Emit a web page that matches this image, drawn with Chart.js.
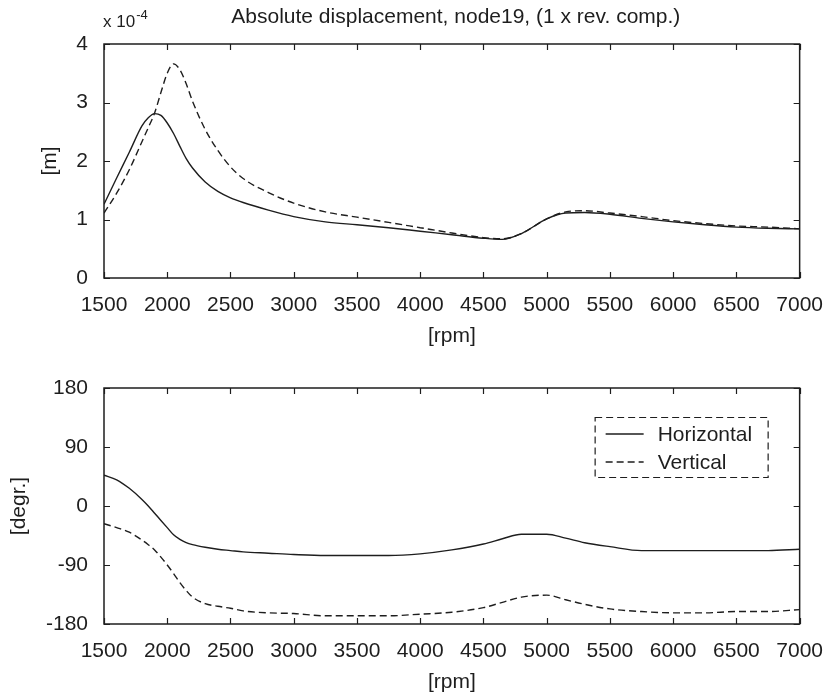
<!DOCTYPE html>
<html>
<head>
<meta charset="utf-8">
<script src="https://cdn.jsdelivr.net/npm/chart.js@4.4.1/dist/chart.umd.min.js"></script>
<style>
    html, body { margin: 0; padding: 0; background: #fff; }
    #wrap { position: relative; width: 838px; height: 698px; }
    #wrap canvas { position: absolute; left: 0; }
</style>
</head>
<body>
<div id="wrap">
    <canvas id="ampChart" width="838" height="350" style="top:0"></canvas>
    <canvas id="phaseChart" width="838" height="348" style="top:350px"></canvas>
</div>
<script>
/* ============================================================================
   Absolute displacement, node19 - amplitude (x 10^-4 m) and phase (degr.)
   over rotor speed. Two stacked charts, gnuplot-ish frame with inward ticks.
   ============================================================================ */

// --- data --------------------------------------------------------------------
const rpm = [1500, 1600, 1700, 1800, 1850, 1900, 1950, 2000, 2050, 2100, 2150, 2200,
             2300, 2400, 2500, 2600, 2800, 3000, 3250, 3500, 3750, 4000, 4250, 4500,
             4650, 4800, 5000, 5150, 5300, 5500, 5750, 6000, 6250, 6500, 6750, 7000];

// amplitude, in units of 1e-4 m
const ampHorizontal = [1.26, 1.71, 2.15, 2.60, 2.74, 2.81, 2.78, 2.65, 2.47, 2.25, 2.04, 1.88,
                       1.64, 1.48, 1.37, 1.29, 1.16, 1.05, 0.96, 0.91, 0.86, 0.80, 0.74, 0.68,
                       0.66, 0.76, 1.01, 1.11, 1.12, 1.09, 1.02, 0.96, 0.91, 0.87, 0.85, 0.84];
const ampVertical   = [1.11, 1.45, 1.85, 2.33, 2.57, 2.82, 3.17, 3.50, 3.66, 3.56, 3.32, 3.02,
                       2.54, 2.18, 1.90, 1.70, 1.46, 1.28, 1.13, 1.04, 0.95, 0.86, 0.77, 0.69,
                       0.67, 0.76, 1.01, 1.13, 1.15, 1.11, 1.05, 0.98, 0.93, 0.89, 0.87, 0.84];

// phase, degrees
const phaseHorizontal = [47, 40, 27, 10, 0, -11, -22, -33, -44, -51, -56, -59,
                         -63, -66, -68, -70, -72, -74, -75.5, -75.5, -75.5, -73, -67, -58,
                         -50, -43, -43, -49, -56, -62, -68, -68, -68, -68, -68, -66];
const phaseVertical   = [-27, -33, -40, -52, -59, -67, -78, -90, -103, -117, -129, -139,
                         -149, -153, -156, -160, -163, -164, -167.5, -167.5, -167.5, -165, -162, -155,
                         -147, -139, -136, -143, -150, -157, -161, -163, -163, -161, -161, -158];

const seriesNames = ['Horizontal', 'Vertical'];
const titleText = 'Absolute displacement, node19, (1 x rev. comp.)';

// --- look ---------------------------------------------------------------------
const FONT = '"Liberation Sans", Arial, Helvetica, sans-serif';
const INK = '#1e1e1e';
const TICK_LEN = 6;

const toPoints = (ys) => rpm.map((r, i) => ({ x: r, y: ys[i] }));

/**
 * Draws the box round the plot area and the inward ticks on all four sides.
 */
const framePlugin = {
    id: 'frame',
    afterDatasetsDraw(chart) {
        const { ctx, chartArea: a, scales: { x, y } } = chart;
        ctx.save();
        ctx.strokeStyle = INK;
        ctx.lineWidth = 1.5;
        ctx.strokeRect(a.left, a.top, a.right - a.left, a.bottom - a.top);
        ctx.lineWidth = 1.2;
        ctx.beginPath();
        x.ticks.forEach(t => {
            const px = Math.round(x.getPixelForValue(t.value)) + 0.5;
            ctx.moveTo(px, a.bottom); ctx.lineTo(px, a.bottom - TICK_LEN);
            ctx.moveTo(px, a.top);    ctx.lineTo(px, a.top + TICK_LEN);
        });
        y.ticks.forEach(t => {
            const py = Math.round(y.getPixelForValue(t.value)) + 0.5;
            ctx.moveTo(a.left, py);  ctx.lineTo(a.left + TICK_LEN, py);
            ctx.moveTo(a.right, py); ctx.lineTo(a.right - TICK_LEN, py);
        });
        ctx.stroke();
        ctx.restore();
    }
};

// top headline + the "x 10^-4" multiplier
const headerPlugin = {
    id: 'header',
    afterDraw(chart) {
        const { ctx, chartArea: a } = chart;
        ctx.save();
        ctx.fillStyle = INK;
        ctx.textBaseline = 'alphabetic';
        ctx.textAlign = 'center';
        ctx.font = `21px ${FONT}`;
        ctx.fillText(titleText, (a.left + a.right) / 2 + 4, 23);

        ctx.textAlign = 'left';
        ctx.font = `17px ${FONT}`;
        ctx.fillText('x 10', a.left - 1, 27);
        const w = ctx.measureText('x 10').width;
        ctx.font = `13px ${FONT}`;
        ctx.fillText('-4', a.left - 1 + w + 1, 19);
        ctx.restore();
    }
};

// legend box sitting inside the phase plot
const boxLegendPlugin = {
    id: 'boxLegend',
    afterDraw(chart) {
        const { ctx, chartArea: a } = chart;
        const right = a.right - 32, top = a.top + 29;
        const w = 173, h = 60;
        const left = right - w;
        ctx.save();
        ctx.strokeStyle = INK;
        ctx.lineWidth = 1.2;
        ctx.setLineDash([7, 4]);
        ctx.strokeRect(left + 0.5, top + 0.5, w, h);

        ctx.font = `21px ${FONT}`;
        ctx.fillStyle = INK;
        ctx.textBaseline = 'middle';
        ctx.textAlign = 'left';
        chart.data.datasets.forEach((ds, i) => {
            const cy = top + 17 + i * 28;
            ctx.setLineDash(ds.borderDash || []);
            ctx.lineWidth = 1.4;
            ctx.beginPath();
            ctx.moveTo(left + 11, cy);
            ctx.lineTo(left + 49, cy);
            ctx.stroke();
            ctx.fillText(ds.label, left + 63, cy + 1);
        });
        ctx.restore();
    }
};

function lineDataset(label, ys, dashed) {
    return {
        label: label,
        data: toPoints(ys),
        borderColor: INK,
        borderWidth: 1.4,
        borderDash: dashed ? [7, 4] : [],
        pointRadius: 0,
        cubicInterpolationMode: 'monotone',
        fill: false
    };
}

/**
 * Shared options; only the y range and labels differ between the two plots.
 */
function buildOptions({ yMin, yMax, yStep, yTitle, yTitlePad, padTop, xHeight, rpmPad }) {
    const tickFont = { family: FONT, size: 21 };
    return {
        responsive: false,
        animation: false,
        layout: { padding: { left: 0, right: 27, top: padTop, bottom: 0 } },
        plugins: { legend: { display: false }, tooltip: { enabled: false } },
        scales: {
            x: {
                type: 'linear',
                min: 1500, max: 7000,
                ticks: { stepSize: 500, color: INK, font: tickFont, padding: 15, maxRotation: 0,
                         callback: v => String(v) },
                grid: { display: false, drawTicks: false },
                border: { display: false },
                title: { display: true, text: '[rpm]', color: INK, font: tickFont,
                         padding: { top: 0, bottom: rpmPad } },
                afterFit: s => { s.height = xHeight; }
            },
            y: {
                min: yMin, max: yMax,
                ticks: { stepSize: yStep, color: INK, font: tickFont, padding: 16 },
                grid: { display: false, drawTicks: false },
                border: { display: false },
                title: { display: true, text: yTitle, color: INK, font: tickFont,
                         padding: { top: yTitlePad, bottom: 0 } },
                afterFit: s => { s.width = 104; }
            }
        }
    };
}

new Chart(document.getElementById('ampChart'), {
    type: 'line',
    data: {
        datasets: [
            lineDataset(seriesNames[0], ampHorizontal, false),
            lineDataset(seriesNames[1], ampVertical, true)
        ]
    },
    options: buildOptions({ yMin: 0, yMax: 4, yStep: 1, yTitle: '[m]', yTitlePad: 38,
                            padTop: 44, xHeight: 72, rpmPad: 1 }),
    plugins: [framePlugin, headerPlugin]
});

new Chart(document.getElementById('phaseChart'), {
    type: 'line',
    data: {
        datasets: [
            lineDataset(seriesNames[0], phaseHorizontal, false),
            lineDataset(seriesNames[1], phaseVertical, true)
        ]
    },
    options: buildOptions({ yMin: -180, yMax: 180, yStep: 90, yTitle: '[degr.]', yTitlePad: 7,
                            padTop: 38, xHeight: 74, rpmPad: 3 }),
    plugins: [framePlugin, boxLegendPlugin]
});
</script>
</body>
</html>
